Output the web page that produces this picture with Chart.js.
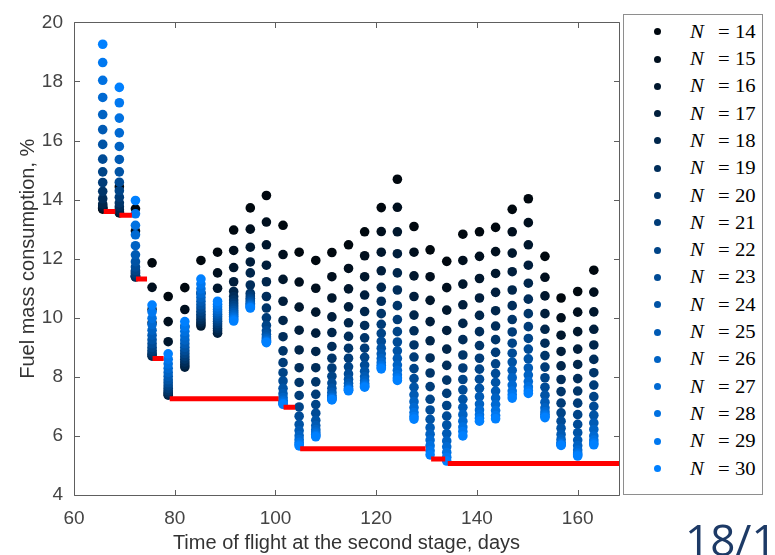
<!DOCTYPE html>
<html>
<head>
<meta charset="utf-8">
<script src="https://cdn.jsdelivr.net/npm/chart.js@4.4.1/dist/chart.umd.min.js"></script>
<style>
  html, body { margin: 0; padding: 0; background: #fff; overflow: hidden; }
  #wrap { position: relative; width: 775px; height: 555px; overflow: hidden; }
  #plot { position: absolute; left: 0; top: 0; }
  #legend { position: absolute; left: 623px; top: 14px; width: 140px; height: 481px;
            border: 1px solid #8e8e8e; background: #fff; box-sizing: border-box; }
  .row { position: absolute; left: 0; width: 100%; height: 0; }
  .dot { position: absolute; width: 7px; height: 7px; border-radius: 50%; top: -3.5px; left: 30px; }
  .lbl { position: absolute; top: -12px; height: 24px; line-height: 24px; font-family: "Liberation Serif", serif;
         font-size: 18px; color: #000; white-space: nowrap; transform: scaleX(1.15); transform-origin: 0 50%; }
  #page { position: absolute; left: 685px; top: 517px; font-family: "Open Sans", sans-serif; font-size: 44px;
          line-height: 44px; color: #1d3a66; white-space: nowrap; }
</style>
</head>
<body>
<div id="wrap">
  <canvas id="plot" width="775" height="555"></canvas>
  <div id="legend"></div>
  <div id="page">18/1</div>
</div>
<script>
// Time of flight at the second stage (days), one column of results per value
const flightDays = [65.7, 69.0, 72.2, 75.5, 78.7, 82.0, 85.2, 88.5, 91.7, 95.0, 98.2,
                    101.5, 104.7, 108.0, 111.2, 114.5, 117.7, 121.0, 124.2, 127.5, 130.7,
                    134.0, 137.2, 140.5, 143.7, 147.0, 150.2, 153.5, 156.7, 160.0, 163.2];

// Number of revolutions N shown in the legend
const revolutions = [14, 15, 16, 17, 18, 19, 20, 21, 22, 23, 24, 25, 26, 27, 28, 29, 30];

// Fuel mass consumption (%) for each N, one value per flight time
const fuelN14 = [13.68, 14.44, 13.69, 11.86, 10.72, 11.02, 11.94, 12.22, 12.97, 13.72, 14.14, 13.13, 12.22, 11.94, 12.21, 12.47, 12.91, 13.73, 14.69, 13.09, 12.30, 11.91, 12.83, 12.91, 13.06, 13.67, 14.03, 12.08, 10.67, 10.89, 11.61];
const fuelN15 = [13.70, 13.55, 12.94, 11.03, 9.87, 10.28, 10.83, 11.52, 12.28, 13.00, 13.24, 12.14, 11.21, 11.00, 11.39, 11.67, 12.10, 12.92, 13.74, 12.22, 11.39, 11.02, 11.94, 12.08, 12.24, 12.91, 13.22, 11.37, 10.00, 10.19, 10.87];
const fuelN16 = [13.73, 13.57, 11.55, 10.28, 9.19, 9.70, 9.72, 11.00, 11.70, 12.39, 12.47, 11.30, 10.36, 10.19, 10.67, 10.98, 11.39, 12.22, 12.91, 11.42, 10.59, 10.26, 11.14, 11.33, 11.50, 12.19, 12.47, 10.74, 9.41, 9.53, 10.20];
const fuelN17 = [13.78, 13.60, 11.40, 9.83, 7.38, 8.33, 9.79, 9.48, 11.22, 11.89, 11.78, 10.56, 9.58, 9.48, 10.03, 10.37, 10.77, 11.59, 12.17, 10.72, 9.87, 9.57, 10.44, 10.67, 10.86, 11.56, 11.78, 10.14, 8.86, 8.94, 9.61];
const fuelN18 = [13.85, 13.66, 11.38, 8.70, 7.42, 8.41, 9.86, 9.56, 10.89, 11.52, 11.22, 9.91, 8.91, 8.86, 9.50, 9.83, 10.21, 11.03, 11.52, 10.09, 9.22, 8.94, 9.81, 10.08, 10.24, 10.94, 11.17, 9.61, 8.37, 8.42, 9.08];
const fuelN19 = [14.03, 13.76, 11.40, 8.75, 7.47, 8.50, 9.94, 9.64, 10.72, 11.11, 10.72, 9.36, 8.31, 8.31, 9.03, 9.37, 9.74, 10.56, 10.94, 9.56, 8.64, 8.39, 9.26, 9.53, 9.72, 10.41, 10.63, 9.14, 7.91, 7.94, 8.59];
const fuelN20 = [14.28, 13.89, 11.44, 8.81, 7.53, 8.60, 10.03, 9.72, 10.60, 10.83, 10.33, 8.88, 7.81, 7.83, 8.63, 8.97, 9.32, 10.14, 10.41, 9.08, 8.13, 7.89, 8.74, 9.06, 9.26, 9.94, 10.14, 8.72, 7.50, 7.52, 8.14];
const fuelN21 = [14.58, 14.08, 11.50, 8.90, 7.61, 8.69, 10.12, 9.80, 10.50, 10.74, 10.00, 8.48, 7.37, 7.41, 8.30, 8.63, 8.97, 9.78, 9.94, 8.67, 7.67, 7.44, 8.30, 8.63, 8.83, 9.52, 9.70, 8.33, 7.11, 7.11, 7.72];
const fuelN22 = [14.94, 14.30, 11.60, 9.00, 7.70, 8.79, 10.22, 9.88, 10.41, 10.66, 9.74, 8.14, 6.98, 7.06, 8.02, 8.34, 8.66, 9.47, 9.53, 8.28, 7.24, 7.03, 7.91, 8.26, 8.44, 9.14, 9.30, 7.97, 6.78, 6.72, 7.33];
const fuelN23 = [15.37, 14.59, 11.72, 9.12, 7.80, 8.89, 10.33, 9.96, 10.33, 10.60, 9.56, 7.86, 6.67, 6.77, 7.79, 8.10, 8.40, 9.20, 9.18, 7.94, 6.88, 6.67, 7.56, 7.92, 8.11, 8.80, 8.94, 7.65, 6.50, 6.39, 7.00];
const fuelN24 = [15.87, 14.94, 11.90, 9.26, 7.90, 9.00, 10.44, 10.04, 10.25, 10.54, 9.44, 7.61, 6.39, 6.53, 7.61, 7.92, 8.19, 8.97, 8.88, 7.65, 6.56, 6.37, 7.24, 7.61, 7.81, 8.50, 8.61, 7.38, 6.26, 6.11, 6.70];
const fuelN25 = [16.37, 15.36, 12.13, 9.41, 8.02, 9.12, 10.56, 10.12, 10.18, 10.49, 9.35, 7.43, 6.18, 6.35, 7.48, 7.78, 8.01, 8.78, 8.62, 7.39, 6.28, 6.08, 6.97, 7.33, 7.52, 8.22, 8.30, 7.14, 6.05, 5.86, 6.44];
const fuelN26 = [16.88, 15.80, 12.44, 9.58, 8.15, 9.25, 10.69, 10.20, 10.11, 10.45, 9.29, 7.30, 6.01, 6.22, 7.38, 7.68, 7.88, 8.62, 8.40, 7.16, 6.06, 5.83, 6.72, 7.08, 7.28, 7.97, 8.06, 6.95, 5.89, 5.67, 6.22];
const fuelN27 = [17.46, 16.26, 12.81, 9.77, 8.29, 9.39, 10.83, 10.28, 10.05, 10.41, 9.24, 7.21, 5.88, 6.13, 7.31, 7.61, 7.78, 8.49, 8.22, 6.96, 5.86, 5.63, 6.50, 6.88, 7.06, 7.72, 7.84, 6.82, 5.79, 5.52, 6.00];
const fuelN28 = [18.04, 16.76, 13.13, 9.98, 8.44, 9.54, 10.98, 10.37, 9.99, 10.38, 9.20, 7.15, 5.78, 6.06, 7.27, 7.57, 7.72, 8.39, 8.07, 6.79, 5.67, 5.44, 6.30, 6.72, 6.86, 7.52, 7.66, 6.73, 5.73, 5.42, 5.86];
const fuelN29 = [18.64, 17.28, 13.52, 10.20, 8.60, 9.70, 11.14, 10.46, 9.94, 10.35, 9.18, 7.10, 5.71, 6.01, 7.24, 7.55, 7.68, 8.32, 7.96, 6.66, 5.50, 5.28, 6.15, 6.60, 6.69, 7.39, 7.53, 6.67, 5.70, 5.36, 5.76];
const fuelN30 = [19.26, 17.80, 13.97, 10.43, 8.78, 9.87, 11.31, 10.56, 9.89, 10.33, 9.16, 7.07, 5.66, 5.97, 7.22, 7.53, 7.65, 8.27, 7.88, 6.57, 5.36, 5.15, 6.00, 6.50, 6.58, 7.28, 7.44, 6.62, 5.68, 5.32, 5.70];

const fuelSeries = [fuelN14, fuelN15, fuelN16, fuelN17, fuelN18, fuelN19, fuelN20, fuelN21, fuelN22,
                    fuelN23, fuelN24, fuelN25, fuelN26, fuelN27, fuelN28, fuelN29, fuelN30];

// Lowest consumption found so far: level of each step and the days it spans
const bestStart = [65.9, 69.0, 72.3, 75.6, 79.0, 101.6, 104.9, 130.9, 134.2];
const bestEnd   = [68.2, 71.5, 74.5, 77.8, 100.6, 103.9, 129.8, 133.7, 168.2];
const bestLevel = [13.60, 13.47, 11.31, 8.62, 7.26, 6.97, 5.57, 5.22, 5.07];

// Axis ticks
const xTicks = [60, 80, 100, 120, 140, 160];
const yTicks = [4, 6, 8, 10, 12, 14, 16, 18, 20];

// Colour ramp from near-black (N = 14) to bright blue (N = 30)
function revColour(n) {
  const t = (n - 13) / 17;
  return `rgb(0, ${Math.round(128 * t)}, ${Math.round(255 * t)})`;
}

const scatterSets = revolutions.map((n, k) => ({
  type: 'scatter',
  label: 'N = ' + n,
  data: flightDays.map((d, i) => ({ x: d, y: fuelSeries[k][i] })),
  backgroundColor: revColour(n),
  borderWidth: 0,
  pointRadius: 4.8,
  pointHoverRadius: 4.8,
  order: 31 - n
}));

const bestPoints = [];
bestLevel.forEach((lvl, i) => {
  bestPoints.push({ x: bestStart[i], y: lvl }, { x: bestEnd[i], y: lvl }, { x: bestEnd[i], y: null });
});

const bestSet = {
  type: 'line',
  label: 'minimum',
  data: bestPoints,
  borderColor: '#ff0000',
  borderWidth: 5,
  borderCapStyle: 'butt',
  pointRadius: 0,
  spanGaps: false,
  fill: false,
  order: 0
};

// Box around the axes with inward tick marks on all four sides
const axesBox = {
  id: 'axesBox',
  beforeDatasetsDraw(chart) {
    const { ctx, chartArea: a, scales: { x, y } } = chart;
    const L = Math.round(a.left) + 0.5, R = Math.round(a.right) + 0.5;
    const T = Math.round(a.top) + 0.5, B = Math.round(a.bottom) + 0.5;
    ctx.save();
    ctx.strokeStyle = '#5e5e5e';
    ctx.lineWidth = 1;
    ctx.beginPath();
    ctx.rect(L, T, R - L, B - T);
    x.ticks.forEach(t => {
      const p = Math.round(x.getPixelForValue(t.value)) + 0.5;
      ctx.moveTo(p, B); ctx.lineTo(p, B - 5.5);
      ctx.moveTo(p, T); ctx.lineTo(p, T + 5.5);
    });
    y.ticks.forEach(t => {
      const p = Math.round(y.getPixelForValue(t.value)) + 0.5;
      ctx.moveTo(L, p); ctx.lineTo(L + 5.5, p);
      ctx.moveTo(R, p); ctx.lineTo(R - 5.5, p);
    });
    ctx.stroke();
    ctx.restore();
  }
};

const tickFont = { family: '"Liberation Sans", Arial, sans-serif', size: 19 };
const titleFont = { family: '"Liberation Sans", Arial, sans-serif', size: 20 };

const chart = new Chart(document.getElementById('plot'), {
  data: { datasets: [...scatterSets, bestSet] },
  options: {
    responsive: false,
    animation: false,
    events: [],
    layout: { padding: { left: 0, top: 15, right: 156, bottom: 0 } },
    scales: {
      x: {
        type: 'linear',
        min: 60,
        max: 168.2,
        afterBuildTicks: s => { s.ticks = xTicks.map(v => ({ value: v })); },
        afterFit: s => { s.height = 60; },
        grid: { display: false, drawTicks: false },
        border: { display: false },
        ticks: { font: tickFont, color: '#444444', padding: 12, maxRotation: 0 },
        title: { display: true, text: 'Time of flight at the second stage, days', font: titleFont,
                 color: '#333333', padding: { top: 0, bottom: 0 } }
      },
      y: {
        type: 'linear',
        min: 4,
        max: 20,
        afterBuildTicks: s => { s.ticks = yTicks.map(v => ({ value: v })); },
        afterFit: s => { s.width = 74; },
        grid: { display: false, drawTicks: false },
        border: { display: false },
        ticks: { font: tickFont, color: '#444444', padding: 11 },
        title: { display: true, text: 'Fuel mass consumption, %', font: titleFont,
                 color: '#333333', padding: { top: 16, bottom: 0 } }
      }
    },
    plugins: { legend: { display: false }, tooltip: { enabled: false } }
  },
  plugins: [axesBox]
});

// Legend listing each N with its marker colour
const legendBox = document.getElementById('legend');
chart.data.datasets.filter(ds => ds.type === 'scatter').forEach((ds, i) => {
  const n = revolutions[i];
  const row = document.createElement('div');
  row.className = 'row';
  row.style.top = (16.7 + 27.3 * i) + 'px';
  row.innerHTML =
    `<div class="dot" style="background:${ds.backgroundColor}"></div>` +
    `<span class="lbl" style="left:66px"><i>N</i></span>` +
    `<span class="lbl" style="left:94px">=</span>` +
    `<span class="lbl" style="left:111px">${n}</span>`;
  legendBox.appendChild(row);
});
</script>
</body>
</html>
